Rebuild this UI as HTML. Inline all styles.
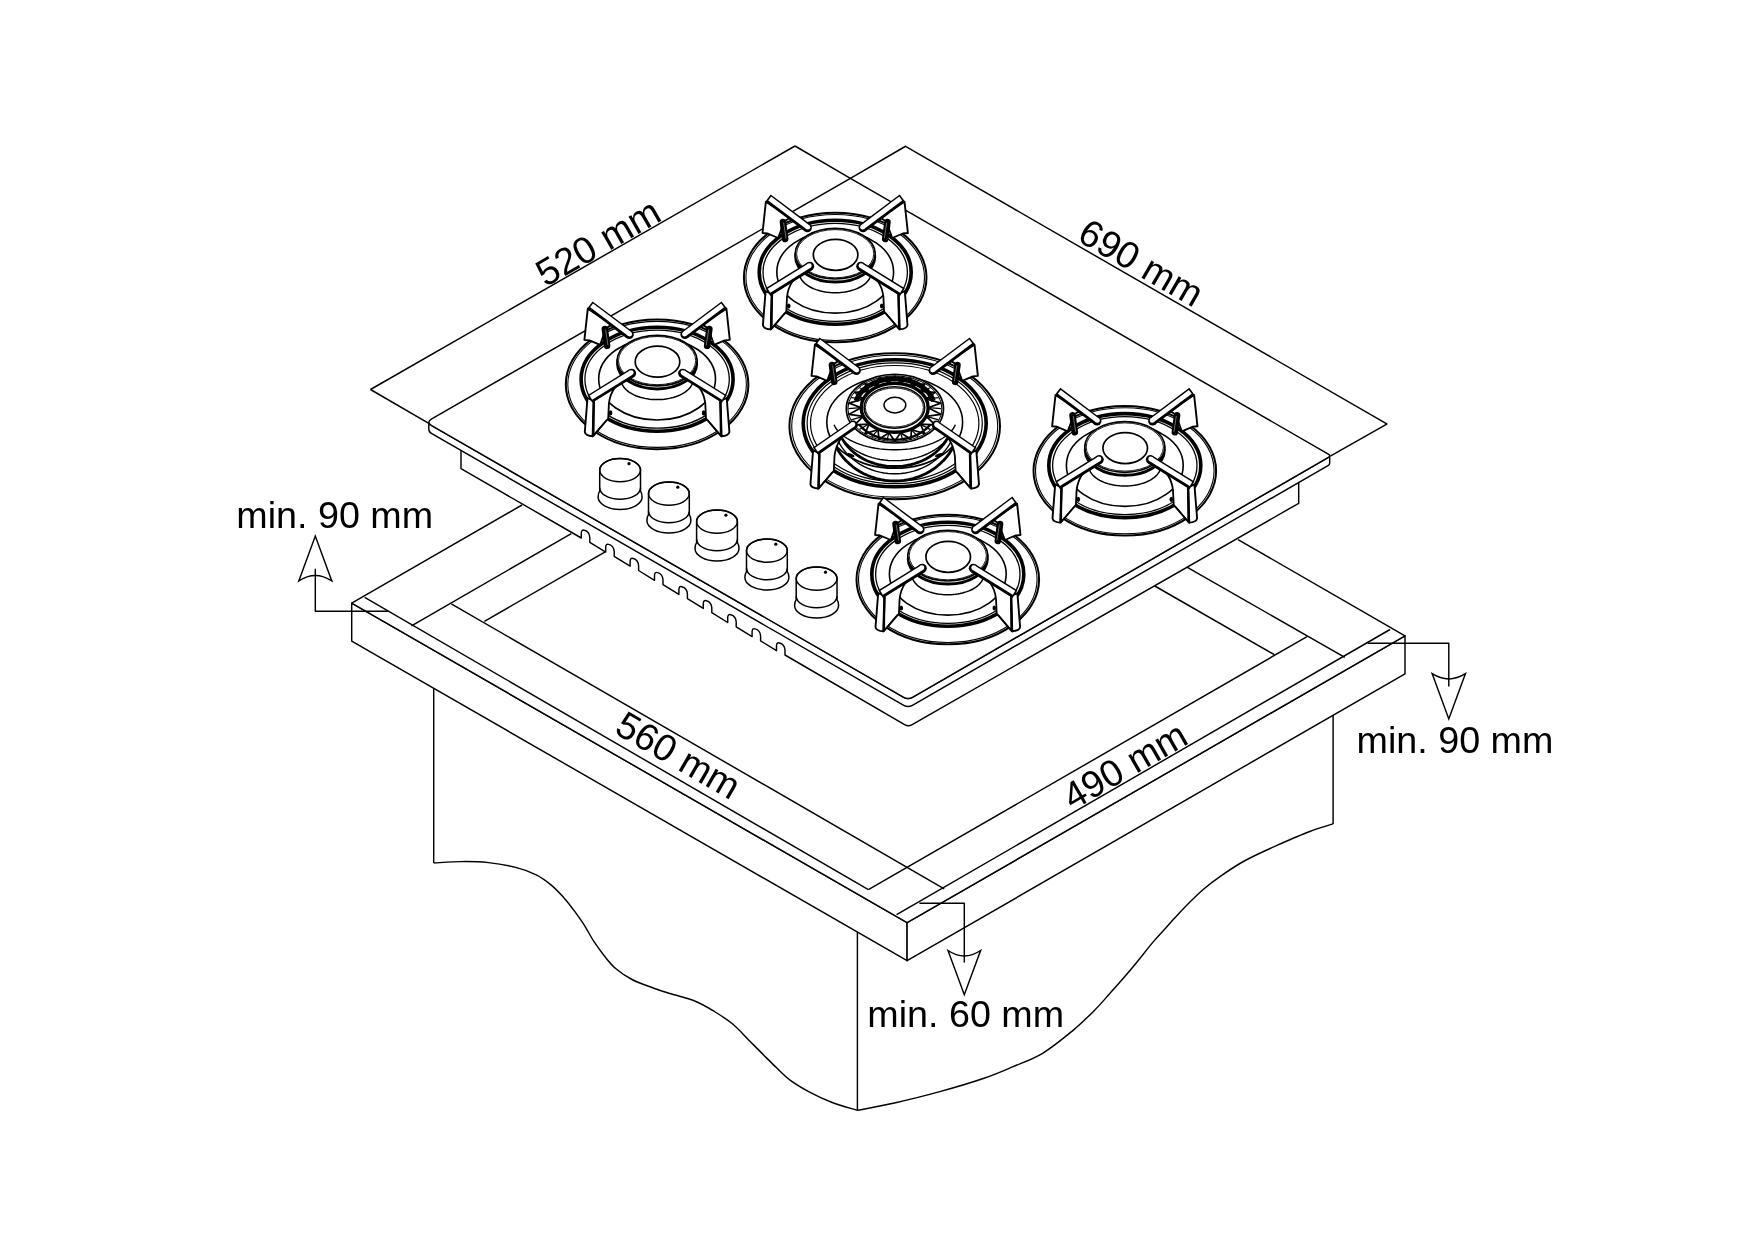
<!DOCTYPE html>
<html><head><meta charset="utf-8"><style>
html,body{margin:0;padding:0;background:#fff;}
svg{display:block;will-change:transform;}
</style></head><body>
<svg width="1755" height="1240" viewBox="0 0 1755 1240" stroke="#000" fill="none" stroke-linecap="butt" stroke-linejoin="round">
<rect x="0" y="0" width="1755" height="1240" fill="#fff" stroke="none"/>
<line x1="433.7" y1="688.0" x2="433.7" y2="863.0" stroke-width="1.45" />
<path d="M433.7,863.0 C438.2,862.8 451.9,861.7 461.0,861.6 C470.1,861.5 479.3,861.6 488.4,862.6 C497.5,863.6 507.7,865.4 515.7,867.4 C523.7,869.4 530.3,871.9 536.2,874.9 C542.1,877.9 546.7,881.4 551.3,885.1 C555.9,888.9 559.7,893.1 563.6,897.4 C567.5,901.7 571.1,906.5 574.5,911.1 C577.9,915.7 580.9,919.8 584.1,924.8 C587.3,929.8 590.3,936.0 593.7,941.2 C597.1,946.4 601.0,951.7 604.6,956.2 C608.2,960.8 611.0,964.6 615.6,968.5 C620.2,972.4 625.9,976.3 632.0,979.5 C638.1,982.7 646.6,985.5 652.5,987.7 C658.4,989.9 660.4,990.6 667.4,992.8 C674.4,995.0 686.7,997.8 694.7,1001.0 C702.7,1004.2 708.8,1008.1 715.2,1012.0 C721.6,1015.9 727.3,1019.5 733.0,1024.3 C738.7,1029.1 744.4,1035.7 749.4,1040.7 C754.4,1045.7 758.5,1049.9 763.1,1054.4 C767.7,1059.0 772.2,1063.7 776.8,1068.0 C781.3,1072.3 785.2,1076.4 790.4,1080.3 C795.6,1084.2 801.4,1087.6 808.2,1091.3 C815.1,1095.0 823.3,1099.0 831.5,1102.2 C839.7,1105.4 853.1,1109.0 857.4,1110.4" fill="none" stroke-width="1.45" />
<line x1="857.4" y1="932.0" x2="857.4" y2="1110.4" stroke-width="1.45" />
<path d="M857.4,1110.4 C863.6,1109.2 880.8,1106.1 894.4,1103.0 C908.0,1099.9 924.1,1096.0 938.9,1091.9 C953.7,1087.8 970.9,1082.7 983.3,1078.5 C995.6,1074.3 1003.1,1070.9 1013.0,1066.7 C1022.9,1062.5 1032.7,1059.2 1042.6,1053.3 C1052.5,1047.4 1063.6,1038.2 1072.2,1031.1 C1080.8,1023.9 1088.1,1016.7 1094.4,1010.4 C1100.7,1004.1 1103.7,1000.4 1110.0,993.3 C1116.3,986.2 1125.1,976.3 1132.3,967.7 C1139.5,959.1 1147.3,948.9 1153.2,941.9 C1159.1,934.9 1162.3,931.7 1167.7,925.8 C1173.1,919.9 1179.6,912.5 1185.5,906.5 C1191.4,900.5 1197.3,894.6 1203.2,889.5 C1209.1,884.4 1214.0,880.6 1221.0,875.8 C1228.0,871.0 1235.8,865.6 1245.2,860.5 C1254.6,855.4 1266.7,850.0 1277.4,845.2 C1288.2,840.4 1300.4,835.0 1309.7,831.5 C1319.0,828.0 1329.2,825.2 1333.1,823.9" fill="none" stroke-width="1.45" />
<line x1="1333.1" y1="715.0" x2="1333.1" y2="823.9" stroke-width="1.45" />
<polygon points="351.7,603.1 907.1,922.7 907.1,960.7 351.7,641.1" fill="#fff" stroke-width="1.45" />
<polygon points="907.1,922.7 1405.0,635.8 1405.0,673.8 907.1,960.7" fill="#fff" stroke-width="1.45" />
<polygon points="351.7,603.1 522.0,505.0 880.0,330.0 1238.0,539.6 1405.0,635.8 907.1,922.7" fill="#fff" stroke-width="1.45" stroke="none"/>
<polyline points="522.0,505.0 351.7,603.1 907.1,922.7 1405.0,635.8 1238.0,539.6" fill="none" stroke-width="1.45" />
<line x1="364.7" y1="597.4" x2="868.4" y2="889.7" stroke-width="1.45" />
<line x1="868.4" y1="889.7" x2="1307.0" y2="636.6" stroke-width="1.45" />
<line x1="411.5" y1="625.9" x2="571.3" y2="533.6" stroke-width="1.45" />
<line x1="1154.8" y1="586.0" x2="1274.4" y2="654.7" stroke-width="1.45" />
<line x1="451.3" y1="603.8" x2="944.2" y2="888.8" stroke-width="1.45" />
<line x1="896.6" y1="914.7" x2="1390.0" y2="629.5" stroke-width="1.45" />
<line x1="484.4" y1="621.3" x2="605.2" y2="551.8" stroke-width="1.45" />
<line x1="1186.5" y1="566.9" x2="1344.8" y2="657.3" stroke-width="1.45" />
<path d="M461,440 L461,468.6 L581.3,538.0 l0,-5.1 q0.2,-3.6 3.1,-2.6 q5.0,1.3 5.4,7.2 l0,4.8 L605.7,552.1 l0,-5.1 q0.2,-3.6 3.1,-2.6 q5.0,1.3 5.4,7.2 l0,4.8 L630.1,566.2 l0,-5.1 q0.2,-3.6 3.1,-2.6 q5.0,1.3 5.4,7.2 l0,4.8 L654.5,580.3 l0,-5.1 q0.2,-3.6 3.1,-2.6 q5.0,1.3 5.4,7.2 l0,4.8 L678.9,594.4 l0,-5.1 q0.2,-3.6 3.1,-2.6 q5.0,1.3 5.4,7.2 l0,4.8 L703.3,608.4 l0,-5.1 q0.2,-3.6 3.1,-2.6 q5.0,1.3 5.4,7.2 l0,4.8 L727.7,622.5 l0,-5.1 q0.2,-3.6 3.1,-2.6 q5.0,1.3 5.4,7.2 l0,4.8 L752.1,636.6 l0,-5.1 q0.2,-3.6 3.1,-2.6 q5.0,1.3 5.4,7.2 l0,4.8 L776.5,650.7 l0,-5.1 q0.2,-3.6 3.1,-2.6 q5.0,1.3 5.4,7.2 l0,4.8 L904.6,724.6 Q908.4,726.8 912.2,724.6 L1298.7,503.3 L1298.7,470 Z" fill="#fff" stroke-width="1.45" />
<path d="M428.80,423.97 L903.77,697.31 Q908.10,699.80 912.43,697.30 L1329.70,456.61 L1329.70,463.11 Q1329.70,464.61 1328.40,465.36 L912.43,705.30 Q908.10,707.80 903.77,705.31 L431.40,433.47 Q428.80,431.97 428.80,428.97 Z" fill="#fff" stroke-width="1.45" />
<path d="M431.71,425.64 Q425.90,422.30 431.71,418.96 L850.40,178.30 L1328.33,454.20 Q1331.10,455.80 1328.33,457.40 L912.43,697.30 Q908.10,699.80 903.77,697.31 Z" fill="#fff" stroke-width="1.45" />
<line x1="850.4" y1="178.3" x2="795.0" y2="146.0" stroke-width="1.45" />
<line x1="850.4" y1="178.3" x2="906.0" y2="146.0" stroke-width="1.45" />
<line x1="428.8" y1="423.3" x2="370.5" y2="389.5" stroke-width="1.45" />
<line x1="1330.3" y1="456.2" x2="1387.2" y2="423.8" stroke-width="1.45" />
<line x1="370.5" y1="389.5" x2="795.0" y2="146.0" stroke-width="1.45" />
<line x1="906.0" y1="146.6" x2="1387.2" y2="424.1" stroke-width="1.45" />
<path d="M599.7,470.1 A20.4,11.6 0 0 1 640.5,470.1 L640.5,491.1 Q642.1,493.1 642.1,497.1 A22.0,12.4 0 0 1 598.1,497.1 Q598.1,493.1 599.7,491.1 Z" fill="#fff" stroke-width="1.5" />
<ellipse cx="620.1" cy="470.1" rx="20.4" ry="11.6" fill="none" stroke-width="1.5" />
<path d="M599.7,487.7 A20.4,11.6 0 0 0 640.5,487.7" fill="none" stroke-width="1.5"/>
<circle cx="629.0" cy="463.7" r="1.6" fill="#000" stroke="none"/>
<path d="M648.5,493.6 A20.4,11.6 0 0 1 689.3,493.6 L689.3,514.6 Q690.9,516.6 690.9,520.6 A22.0,12.4 0 0 1 646.9,520.6 Q646.9,516.6 648.5,514.6 Z" fill="#fff" stroke-width="1.5" />
<ellipse cx="668.9" cy="493.6" rx="20.4" ry="11.6" fill="none" stroke-width="1.5" />
<path d="M648.5,511.2 A20.4,11.6 0 0 0 689.3,511.2" fill="none" stroke-width="1.5"/>
<circle cx="677.8" cy="487.2" r="1.6" fill="#000" stroke="none"/>
<path d="M696.6,521.6 A20.4,11.6 0 0 1 737.4,521.6 L737.4,542.6 Q739.0,544.6 739.0,548.6 A22.0,12.4 0 0 1 695.0,548.6 Q695.0,544.6 696.6,542.6 Z" fill="#fff" stroke-width="1.5" />
<ellipse cx="717.0" cy="521.6" rx="20.4" ry="11.6" fill="none" stroke-width="1.5" />
<path d="M696.6,539.2 A20.4,11.6 0 0 0 737.4,539.2" fill="none" stroke-width="1.5"/>
<circle cx="725.9" cy="515.2" r="1.6" fill="#000" stroke="none"/>
<path d="M746.5,550.6 A20.4,11.6 0 0 1 787.3,550.6 L787.3,571.6 Q788.9,573.6 788.9,577.6 A22.0,12.4 0 0 1 744.9,577.6 Q744.9,573.6 746.5,571.6 Z" fill="#fff" stroke-width="1.5" />
<ellipse cx="766.9" cy="550.6" rx="20.4" ry="11.6" fill="none" stroke-width="1.5" />
<path d="M746.5,568.2 A20.4,11.6 0 0 0 787.3,568.2" fill="none" stroke-width="1.5"/>
<circle cx="775.8" cy="544.2" r="1.6" fill="#000" stroke="none"/>
<path d="M796.2,578.6 A20.4,11.6 0 0 1 837.0,578.6 L837.0,599.6 Q838.6,601.6 838.6,605.6 A22.0,12.4 0 0 1 794.6,605.6 Q794.6,601.6 796.2,599.6 Z" fill="#fff" stroke-width="1.5" />
<ellipse cx="816.6" cy="578.6" rx="20.4" ry="11.6" fill="none" stroke-width="1.5" />
<path d="M796.2,596.2 A20.4,11.6 0 0 0 837.0,596.2" fill="none" stroke-width="1.5"/>
<circle cx="825.5" cy="572.2" r="1.6" fill="#000" stroke="none"/>
<ellipse cx="835.2" cy="277.5" rx="91.3" ry="64.8" fill="#fff" stroke-width="2.0" />
<ellipse cx="835.2" cy="277.5" rx="89.3" ry="63.0" fill="none" stroke-width="1.1" />
<ellipse cx="835.2" cy="272.3" rx="76.0" ry="52.0" fill="none" stroke-width="3.6" />
<ellipse cx="835.2" cy="272.3" rx="72.2" ry="49.0" fill="none" stroke-width="1.3" />
<polygon points="765.9,201.7 762.5,233.0 767.6,233.5 778.2,238.0 784.2,221.5 790.2,217.5" fill="#fff" stroke-width="1.9" />
<line x1="782.9" y1="222.0" x2="785.2" y2="239.0" stroke-width="6.5" stroke-linecap="round"/>
<line x1="783.7" y1="223.0" x2="786.0" y2="238.0" stroke-width="0.8" stroke="#888" stroke-linecap="round"/>
<line x1="768.0" y1="198.1" x2="807.4" y2="227.7" stroke-width="9.0" stroke-linecap="butt"/>
<circle cx="807.40" cy="227.70" r="4.50" fill="#000" stroke="none"/>
<line x1="769.7" y1="198.5" x2="807.8" y2="227.1" stroke-width="4.8" stroke="#fff" stroke-linecap="butt"/>
<circle cx="807.82" cy="227.14" r="2.40" fill="#fff" stroke="none"/>
<polygon points="904.5,201.7 907.9,233.0 902.8,233.5 892.2,238.0 886.2,221.5 880.2,217.5" fill="#fff" stroke-width="1.9" />
<line x1="887.5" y1="222.0" x2="885.2" y2="239.0" stroke-width="6.5" stroke-linecap="round"/>
<line x1="886.7" y1="223.0" x2="884.4" y2="238.0" stroke-width="0.8" stroke="#888" stroke-linecap="round"/>
<line x1="902.4" y1="198.1" x2="863.0" y2="227.7" stroke-width="9.0" stroke-linecap="butt"/>
<circle cx="863.00" cy="227.70" r="4.50" fill="#000" stroke="none"/>
<line x1="900.7" y1="198.5" x2="862.6" y2="227.1" stroke-width="4.8" stroke="#fff" stroke-linecap="butt"/>
<circle cx="862.58" cy="227.14" r="2.40" fill="#fff" stroke="none"/>
<ellipse cx="835.2" cy="272.1" rx="58.4" ry="41.0" fill="#fff" stroke-width="1.6" />
<path d="M870.65,276.01 L870.13,277.39 L869.44,278.74 L868.58,280.07 L867.56,281.36 L866.38,282.60 L865.05,283.80 L863.57,284.94 L861.95,286.02 L860.21,287.03 L858.34,287.97 L856.36,288.84 L854.28,289.63 L852.10,290.34 L849.84,290.95 L847.51,291.48 L845.12,291.92 L842.68,292.26 L840.21,292.50 L837.71,292.65 L835.20,292.70 L832.69,292.65 L830.19,292.50 L827.72,292.26 L825.28,291.92 L822.89,291.48 L820.56,290.95 L818.30,290.34 L816.12,289.63 L814.04,288.84 L812.06,287.97 L810.19,287.03 L808.45,286.02 L806.83,284.94 L805.35,283.80 L804.02,282.60 L802.84,281.36 L801.82,280.07 L800.96,278.74 L800.27,277.39 L799.75,276.01" fill="none" stroke-width="1.5" />
<ellipse cx="835.2" cy="257.0" rx="39.5" ry="25.0" fill="#fff" stroke-width="3.0" />
<ellipse cx="835.2" cy="253.7" rx="40.0" ry="25.3" fill="#fff" stroke-width="1.7" />
<ellipse cx="835.2" cy="253.7" rx="38.6" ry="24.1" fill="none" stroke-width="0.9" />
<ellipse cx="835.6" cy="254.8" rx="22.3" ry="15.5" fill="none" stroke-width="1.7" />
<ellipse cx="788.7" cy="306.0" rx="1.8" ry="2.6" fill="#000" stroke="none"/>
<ellipse cx="881.7" cy="306.0" rx="1.8" ry="2.6" fill="#000" stroke="none"/>
<path d="M804.2,272.5 Q789.2,278.5 787.0,296.8 L786.3,311.6 L771.7,328.7 L771.2,294.2 Z" fill="#fff" stroke-width="1.8" />
<line x1="784.7" y1="313.0" x2="770.1" y2="330.1" stroke-width="1.2" />
<path d="M771.9,294.0 L765.6,291.1 L762.9,325.1 Q763.7,329.0 771.0,329.3 Z" fill="#fff" stroke-width="1.9" />
<line x1="771.9" y1="294.5" x2="771.0" y2="329.0" stroke-width="2.4" />
<line x1="768.0" y1="292.1" x2="809.7" y2="266.3" stroke-width="9.0" stroke-linecap="butt"/>
<circle cx="809.70" cy="266.30" r="4.50" fill="#000" stroke="none"/>
<line x1="769.0" y1="290.7" x2="809.3" y2="265.7" stroke-width="4.8" stroke="#fff" stroke-linecap="butt"/>
<circle cx="809.33" cy="265.70" r="2.40" fill="#fff" stroke="none"/>
<path d="M866.2,272.5 Q881.2,278.5 883.4,296.8 L884.1,311.6 L898.7,328.7 L899.2,294.2 Z" fill="#fff" stroke-width="1.8" />
<line x1="885.7" y1="313.0" x2="900.3" y2="330.1" stroke-width="1.2" />
<path d="M898.5,294.0 L904.8,291.1 L907.5,325.1 Q906.7,329.0 899.4,329.3 Z" fill="#fff" stroke-width="1.9" />
<line x1="898.5" y1="294.5" x2="899.4" y2="329.0" stroke-width="2.4" />
<line x1="902.4" y1="292.1" x2="860.7" y2="266.3" stroke-width="9.0" stroke-linecap="butt"/>
<circle cx="860.70" cy="266.30" r="4.50" fill="#000" stroke="none"/>
<line x1="901.4" y1="290.7" x2="861.1" y2="265.7" stroke-width="4.8" stroke="#fff" stroke-linecap="butt"/>
<circle cx="861.07" cy="265.70" r="2.40" fill="#fff" stroke="none"/>
<ellipse cx="657.1" cy="384.4" rx="91.3" ry="64.8" fill="#fff" stroke-width="2.0" />
<ellipse cx="657.1" cy="384.4" rx="89.3" ry="63.0" fill="none" stroke-width="1.1" />
<ellipse cx="657.1" cy="379.2" rx="76.0" ry="52.0" fill="none" stroke-width="3.6" />
<ellipse cx="657.1" cy="379.2" rx="72.2" ry="49.0" fill="none" stroke-width="1.3" />
<polygon points="587.8,308.6 584.4,339.9 589.5,340.4 600.1,344.9 606.1,328.4 612.1,324.4" fill="#fff" stroke-width="1.9" />
<line x1="604.8" y1="328.9" x2="607.1" y2="345.9" stroke-width="6.5" stroke-linecap="round"/>
<line x1="605.6" y1="329.9" x2="607.9" y2="344.9" stroke-width="0.8" stroke="#888" stroke-linecap="round"/>
<line x1="589.9" y1="305.0" x2="629.3" y2="334.6" stroke-width="9.0" stroke-linecap="butt"/>
<circle cx="629.30" cy="334.60" r="4.50" fill="#000" stroke="none"/>
<line x1="591.6" y1="305.4" x2="629.7" y2="334.0" stroke-width="4.8" stroke="#fff" stroke-linecap="butt"/>
<circle cx="629.72" cy="334.04" r="2.40" fill="#fff" stroke="none"/>
<polygon points="726.4,308.6 729.8,339.9 724.7,340.4 714.1,344.9 708.1,328.4 702.1,324.4" fill="#fff" stroke-width="1.9" />
<line x1="709.4" y1="328.9" x2="707.1" y2="345.9" stroke-width="6.5" stroke-linecap="round"/>
<line x1="708.6" y1="329.9" x2="706.3" y2="344.9" stroke-width="0.8" stroke="#888" stroke-linecap="round"/>
<line x1="724.3" y1="305.0" x2="684.9" y2="334.6" stroke-width="9.0" stroke-linecap="butt"/>
<circle cx="684.90" cy="334.60" r="4.50" fill="#000" stroke="none"/>
<line x1="722.6" y1="305.4" x2="684.5" y2="334.0" stroke-width="4.8" stroke="#fff" stroke-linecap="butt"/>
<circle cx="684.48" cy="334.04" r="2.40" fill="#fff" stroke="none"/>
<ellipse cx="657.1" cy="379.0" rx="58.4" ry="41.0" fill="#fff" stroke-width="1.6" />
<path d="M692.55,382.91 L692.03,384.29 L691.34,385.64 L690.48,386.97 L689.46,388.26 L688.28,389.50 L686.95,390.70 L685.47,391.84 L683.85,392.92 L682.11,393.93 L680.24,394.87 L678.26,395.74 L676.18,396.53 L674.00,397.24 L671.74,397.85 L669.41,398.38 L667.02,398.82 L664.58,399.16 L662.11,399.40 L659.61,399.55 L657.10,399.60 L654.59,399.55 L652.09,399.40 L649.62,399.16 L647.18,398.82 L644.79,398.38 L642.46,397.85 L640.20,397.24 L638.02,396.53 L635.94,395.74 L633.96,394.87 L632.09,393.93 L630.35,392.92 L628.73,391.84 L627.25,390.70 L625.92,389.50 L624.74,388.26 L623.72,386.97 L622.86,385.64 L622.17,384.29 L621.65,382.91" fill="none" stroke-width="1.5" />
<ellipse cx="657.1" cy="363.9" rx="39.5" ry="25.0" fill="#fff" stroke-width="3.0" />
<ellipse cx="657.1" cy="360.6" rx="40.0" ry="25.3" fill="#fff" stroke-width="1.7" />
<ellipse cx="657.1" cy="360.6" rx="38.6" ry="24.1" fill="none" stroke-width="0.9" />
<ellipse cx="657.5" cy="361.7" rx="22.3" ry="15.5" fill="none" stroke-width="1.7" />
<ellipse cx="610.6" cy="412.9" rx="1.8" ry="2.6" fill="#000" stroke="none"/>
<ellipse cx="703.6" cy="412.9" rx="1.8" ry="2.6" fill="#000" stroke="none"/>
<path d="M626.1,379.4 Q611.1,385.4 608.9,403.7 L608.2,418.5 L593.6,435.6 L593.1,401.1 Z" fill="#fff" stroke-width="1.8" />
<line x1="606.6" y1="419.9" x2="592.0" y2="437.0" stroke-width="1.2" />
<path d="M593.8,400.9 L587.5,398.0 L584.8,432.0 Q585.6,435.9 592.9,436.2 Z" fill="#fff" stroke-width="1.9" />
<line x1="593.8" y1="401.4" x2="592.9" y2="435.9" stroke-width="2.4" />
<line x1="589.9" y1="399.0" x2="631.6" y2="373.2" stroke-width="9.0" stroke-linecap="butt"/>
<circle cx="631.60" cy="373.20" r="4.50" fill="#000" stroke="none"/>
<line x1="590.9" y1="397.6" x2="631.2" y2="372.6" stroke-width="4.8" stroke="#fff" stroke-linecap="butt"/>
<circle cx="631.23" cy="372.60" r="2.40" fill="#fff" stroke="none"/>
<path d="M688.1,379.4 Q703.1,385.4 705.3,403.7 L706.0,418.5 L720.6,435.6 L721.1,401.1 Z" fill="#fff" stroke-width="1.8" />
<line x1="707.6" y1="419.9" x2="722.2" y2="437.0" stroke-width="1.2" />
<path d="M720.4,400.9 L726.7,398.0 L729.4,432.0 Q728.6,435.9 721.3,436.2 Z" fill="#fff" stroke-width="1.9" />
<line x1="720.4" y1="401.4" x2="721.3" y2="435.9" stroke-width="2.4" />
<line x1="724.3" y1="399.0" x2="682.6" y2="373.2" stroke-width="9.0" stroke-linecap="butt"/>
<circle cx="682.60" cy="373.20" r="4.50" fill="#000" stroke="none"/>
<line x1="723.3" y1="397.6" x2="683.0" y2="372.6" stroke-width="4.8" stroke="#fff" stroke-linecap="butt"/>
<circle cx="682.97" cy="372.60" r="2.40" fill="#fff" stroke="none"/>
<ellipse cx="894.7" cy="426.2" rx="105.3" ry="73.0" fill="#fff" stroke-width="2.0" />
<ellipse cx="894.7" cy="426.2" rx="103.0" ry="70.9" fill="none" stroke-width="1.1" />
<ellipse cx="894.7" cy="423.3" rx="91.5" ry="63.5" fill="none" stroke-width="3.6" />
<ellipse cx="894.7" cy="423.3" rx="87.6" ry="60.4" fill="none" stroke-width="1.2" />
<ellipse cx="894.7" cy="423.3" rx="84.2" ry="57.8" fill="none" stroke-width="1.2" />
<polygon points="814.9,344.6 811.5,375.9 816.6,376.4 827.2,380.9 833.2,364.4 839.2,360.4" fill="#fff" stroke-width="1.9" />
<line x1="831.9" y1="364.9" x2="834.2" y2="381.9" stroke-width="6.5" stroke-linecap="round"/>
<line x1="832.7" y1="365.9" x2="835.0" y2="380.9" stroke-width="0.8" stroke="#888" stroke-linecap="round"/>
<line x1="817.0" y1="341.0" x2="856.4" y2="370.6" stroke-width="9.0" stroke-linecap="butt"/>
<circle cx="856.40" cy="370.60" r="4.50" fill="#000" stroke="none"/>
<line x1="818.7" y1="341.4" x2="856.8" y2="370.0" stroke-width="4.8" stroke="#fff" stroke-linecap="butt"/>
<circle cx="856.82" cy="370.04" r="2.40" fill="#fff" stroke="none"/>
<polygon points="974.5,344.6 977.9,375.9 972.8,376.4 962.2,380.9 956.2,364.4 950.2,360.4" fill="#fff" stroke-width="1.9" />
<line x1="957.5" y1="364.9" x2="955.2" y2="381.9" stroke-width="6.5" stroke-linecap="round"/>
<line x1="956.7" y1="365.9" x2="954.4" y2="380.9" stroke-width="0.8" stroke="#888" stroke-linecap="round"/>
<line x1="972.4" y1="341.0" x2="933.0" y2="370.6" stroke-width="9.0" stroke-linecap="butt"/>
<circle cx="933.00" cy="370.60" r="4.50" fill="#000" stroke="none"/>
<line x1="970.7" y1="341.4" x2="932.6" y2="370.0" stroke-width="4.8" stroke="#fff" stroke-linecap="butt"/>
<circle cx="932.58" cy="370.04" r="2.40" fill="#fff" stroke="none"/>
<ellipse cx="894.7" cy="422.2" rx="67.9" ry="46.0" fill="#fff" stroke-width="1.6" />
<path d="M955.35,424.77 L954.30,426.91 L952.96,429.01 L951.34,431.05 L949.44,433.04 L947.28,434.95 L944.86,436.77 L942.19,438.51 L939.30,440.15 L936.19,441.68 L932.87,443.10 L929.37,444.40 L925.70,445.57 L921.88,446.60 L917.93,447.50 L913.86,448.25 L909.70,448.86 L905.47,449.32 L901.18,449.63 L896.86,449.78 L892.54,449.78 L888.22,449.63 L883.93,449.32 L879.70,448.86 L875.54,448.25 L871.47,447.50 L867.52,446.60 L863.70,445.57 L860.03,444.40 L856.53,443.10 L853.21,441.68 L850.10,440.15 L847.21,438.51 L844.54,436.77 L842.12,434.95 L839.96,433.04 L838.06,431.05 L836.44,429.01 L835.10,426.91 L834.05,424.77" fill="none" stroke-width="1.4" />
<path d="M951.08,432.74 L949.51,435.49 L947.68,438.15 L945.58,440.72 L943.24,443.18 L940.66,445.52 L937.86,447.72 L934.85,449.78 L931.64,451.69 L928.25,453.43 L924.70,455.01 L921.00,456.40 L917.18,457.61 L913.24,458.62 L909.22,459.44 L905.12,460.05 L900.97,460.47 L896.79,460.67 L892.61,460.67 L888.43,460.47 L884.28,460.05 L880.18,459.44 L876.16,458.62 L872.22,457.61 L868.40,456.40 L864.70,455.01 L861.15,453.43 L857.76,451.69 L854.55,449.78 L851.54,447.72 L848.74,445.52 L846.16,443.18 L843.82,440.72 L841.72,438.15 L839.89,435.49 L838.32,432.74" fill="none" stroke-width="1.4" />
<path d="M947.27,438.61 L945.40,441.66 L943.27,444.59 L940.91,447.39 L938.31,450.05 L935.49,452.54 L932.46,454.86 L929.25,456.99 L925.86,458.94 L922.32,460.67 L918.64,462.19 L914.83,463.50 L910.93,464.57 L906.94,465.41 L902.90,466.02 L898.81,466.38 L894.70,466.50 L890.59,466.38 L886.50,466.02 L882.46,465.41 L878.47,464.57 L874.57,463.50 L870.76,462.19 L867.08,460.67 L863.54,458.94 L860.15,456.99 L856.94,454.86 L853.91,452.54 L851.09,450.05 L848.49,447.39 L846.13,444.59 L844.00,441.66 L842.13,438.61" fill="none" stroke-width="2.8" />
<path d="M952.96,437.22 L951.34,440.81 L949.44,444.30 L947.28,447.66 L944.86,450.88 L942.19,453.94 L939.30,456.82 L936.19,459.52 L932.87,462.01 L929.37,464.29 L925.70,466.35 L921.88,468.17 L917.93,469.75 L913.86,471.08 L909.70,472.15 L905.47,472.96 L901.18,473.50 L896.86,473.77 L892.54,473.77 L888.22,473.50 L883.93,472.96 L879.70,472.15 L875.54,471.08 L871.47,469.75 L867.52,468.17 L863.70,466.35 L860.03,464.29 L856.53,462.01 L853.21,459.52 L850.10,456.82 L847.21,453.94 L844.54,450.88 L842.12,447.66 L839.96,444.30 L838.06,440.81 L836.44,437.22" fill="none" stroke-width="1.4" />
<path d="M957.47,437.61 L955.89,441.73 L954.02,445.73 L951.86,449.60 L949.42,453.32 L946.71,456.86 L943.75,460.22 L940.55,463.37 L937.12,466.31 L933.49,469.01 L929.67,471.46 L925.69,473.65 L921.54,475.57 L917.27,477.21 L912.89,478.57 L908.42,479.63 L903.89,480.39 L899.30,480.85 L894.70,481.00 L890.10,480.85 L885.51,480.39 L880.98,479.63 L876.51,478.57 L872.13,477.21 L867.86,475.57 L863.71,473.65 L859.73,471.46 L855.91,469.01 L852.28,466.31 L848.85,463.37 L845.65,460.22 L842.69,456.86 L839.98,453.32 L837.54,449.60 L835.38,445.73 L833.51,441.73 L831.93,437.61" fill="none" stroke-width="2.8" />
<ellipse cx="850.7" cy="455.2" rx="4" ry="1.6" fill="#000" stroke="none" transform="rotate(20 850.7 455.2)"/>
<ellipse cx="938.7" cy="455.2" rx="4" ry="1.6" fill="#000" stroke="none" transform="rotate(-20 938.7 455.2)"/>
<ellipse cx="894.9" cy="408.7" rx="48.6" ry="34.3" fill="#fff" stroke-width="1.7" />
<ellipse cx="894.9" cy="408.7" rx="47.0" ry="32.8" fill="none" stroke-width="1.0" />
<polyline points="928.2,407.7 940.7,414.3 926.2,416.4 935.2,424.9 920.4,424.1 924.8,433.6 911.5,429.8 910.8,439.2 900.5,432.8 894.9,441.2 888.9,432.8 879.0,439.2 878.0,429.8 865.0,433.6 869.0,424.1 854.6,424.9 863.2,416.4 849.1,414.3 861.2,407.7 849.1,403.1 863.2,399.0 854.6,392.4 869.0,391.3 865.0,383.8 878.0,385.6 879.0,378.2 888.9,382.6 894.9,376.2 900.5,382.6 910.8,378.2 911.5,385.6 924.8,383.8 920.4,391.3 935.2,392.4 926.2,399.0 940.7,403.1 928.2,407.7" fill="none" stroke-width="1.7" />
<line x1="928.2" y1="407.7" x2="941.4" y2="408.7" stroke-width="1.2" />
<line x1="926.2" y1="416.4" x2="938.6" y2="419.8" stroke-width="1.2" />
<line x1="920.4" y1="424.1" x2="930.5" y2="429.6" stroke-width="1.2" />
<line x1="911.5" y1="429.8" x2="918.2" y2="436.8" stroke-width="1.2" />
<line x1="900.5" y1="432.8" x2="903.0" y2="440.7" stroke-width="1.2" />
<line x1="888.9" y1="432.8" x2="886.8" y2="440.7" stroke-width="1.2" />
<line x1="878.0" y1="429.8" x2="871.7" y2="436.8" stroke-width="1.2" />
<line x1="869.0" y1="424.1" x2="859.3" y2="429.6" stroke-width="1.2" />
<line x1="863.2" y1="416.4" x2="851.2" y2="419.8" stroke-width="1.2" />
<line x1="861.2" y1="407.7" x2="848.4" y2="408.7" stroke-width="1.2" />
<line x1="863.2" y1="399.0" x2="851.2" y2="397.6" stroke-width="1.2" />
<line x1="869.0" y1="391.3" x2="859.3" y2="387.8" stroke-width="1.2" />
<line x1="878.0" y1="385.6" x2="871.7" y2="380.6" stroke-width="1.2" />
<line x1="888.9" y1="382.6" x2="886.8" y2="376.7" stroke-width="1.2" />
<line x1="900.5" y1="382.6" x2="903.0" y2="376.7" stroke-width="1.2" />
<line x1="911.5" y1="385.6" x2="918.2" y2="380.6" stroke-width="1.2" />
<line x1="920.4" y1="391.3" x2="930.5" y2="387.8" stroke-width="1.2" />
<line x1="926.2" y1="399.0" x2="938.6" y2="397.6" stroke-width="1.2" />
<path d="M856.06,400.94 L856.89,398.91 L857.91,396.93 L859.11,395.00 L860.49,393.15 L862.04,391.38 L863.76,389.69 L865.63,388.10 L867.64,386.61 L869.79,385.23 L872.07,383.96 L874.46,382.83 L876.95,381.82 L879.52,380.94 L882.18,380.21 L884.90,379.62 L887.66,379.17 L890.46,378.87 L893.29,378.72 L896.11,378.72 L898.94,378.87 L901.74,379.17 L904.50,379.62 L907.22,380.21 L909.88,380.94 L912.45,381.82 L914.94,382.83 L917.33,383.96 L919.61,385.23 L921.76,386.61 L923.77,388.10 L925.64,389.69 L927.36,391.38 L928.91,393.15 L930.29,395.00 L931.49,396.93 L932.51,398.91 L933.34,400.94" fill="none" stroke-width="5.0" />
<path d="M930.21,424.45 L928.69,426.26 L927.01,427.98 L925.17,429.61 L923.18,431.14 L921.05,432.56 L918.80,433.88 L916.43,435.07 L913.95,436.13 L911.38,437.06 L908.72,437.86 L906.00,438.52 L903.22,439.03 L900.41,439.40 L897.56,439.63 L894.70,439.70 L891.84,439.63 L888.99,439.40 L886.18,439.03 L883.40,438.52 L880.68,437.86 L878.02,437.06 L875.45,436.13 L872.97,435.07 L870.60,433.88 L868.35,432.56 L866.22,431.14 L864.23,429.61 L862.39,427.98 L860.71,426.26 L859.19,424.45" fill="none" stroke-width="2.4" />
<ellipse cx="894.7" cy="407.7" rx="33.5" ry="24.5" fill="#fff" stroke-width="3.4" />
<ellipse cx="894.4" cy="407.5" rx="30.3" ry="20.7" fill="#fff" stroke-width="1.6" />
<ellipse cx="894.4" cy="407.5" rx="29.0" ry="19.5" fill="none" stroke-width="0.9" />
<ellipse cx="894.9" cy="405.1" rx="10.9" ry="7.8" fill="none" stroke-width="1.5" />
<path d="M851.7,428.2 Q836.7,437.7 834.5,456.0 L833.8,470.8 L819.2,487.9 L818.7,453.4 Z" fill="#fff" stroke-width="1.8" />
<line x1="832.2" y1="472.2" x2="817.6" y2="489.3" stroke-width="1.2" />
<path d="M819.4,453.2 L813.1,450.3 L810.4,484.3 Q811.2,488.2 818.5,488.5 Z" fill="#fff" stroke-width="1.9" />
<line x1="819.4" y1="453.7" x2="818.5" y2="488.2" stroke-width="2.4" />
<line x1="815.5" y1="451.3" x2="853.3" y2="425.1" stroke-width="9.0" stroke-linecap="butt"/>
<circle cx="853.30" cy="425.10" r="4.50" fill="#000" stroke="none"/>
<line x1="816.4" y1="449.8" x2="852.9" y2="424.5" stroke-width="4.8" stroke="#fff" stroke-linecap="butt"/>
<circle cx="852.90" cy="424.52" r="2.40" fill="#fff" stroke="none"/>
<path d="M937.7,428.2 Q952.7,437.7 954.9,456.0 L955.6,470.8 L970.2,487.9 L970.7,453.4 Z" fill="#fff" stroke-width="1.8" />
<line x1="957.2" y1="472.2" x2="971.8" y2="489.3" stroke-width="1.2" />
<path d="M970.0,453.2 L976.3,450.3 L979.0,484.3 Q978.2,488.2 970.9,488.5 Z" fill="#fff" stroke-width="1.9" />
<line x1="970.0" y1="453.7" x2="970.9" y2="488.2" stroke-width="2.4" />
<line x1="973.9" y1="451.3" x2="936.1" y2="425.1" stroke-width="9.0" stroke-linecap="butt"/>
<circle cx="936.10" cy="425.10" r="4.50" fill="#000" stroke="none"/>
<line x1="973.0" y1="449.8" x2="936.5" y2="424.5" stroke-width="4.8" stroke="#fff" stroke-linecap="butt"/>
<circle cx="936.50" cy="424.52" r="2.40" fill="#fff" stroke="none"/>
<ellipse cx="1124.8" cy="470.8" rx="91.3" ry="64.8" fill="#fff" stroke-width="2.0" />
<ellipse cx="1124.8" cy="470.8" rx="89.3" ry="63.0" fill="none" stroke-width="1.1" />
<ellipse cx="1124.8" cy="465.6" rx="76.0" ry="52.0" fill="none" stroke-width="3.6" />
<ellipse cx="1124.8" cy="465.6" rx="72.2" ry="49.0" fill="none" stroke-width="1.3" />
<polygon points="1055.5,395.0 1052.1,426.3 1057.2,426.8 1067.8,431.3 1073.8,414.8 1079.8,410.8" fill="#fff" stroke-width="1.9" />
<line x1="1072.5" y1="415.3" x2="1074.8" y2="432.3" stroke-width="6.5" stroke-linecap="round"/>
<line x1="1073.3" y1="416.3" x2="1075.6" y2="431.3" stroke-width="0.8" stroke="#888" stroke-linecap="round"/>
<line x1="1057.6" y1="391.4" x2="1097.0" y2="421.0" stroke-width="9.0" stroke-linecap="butt"/>
<circle cx="1097.00" cy="421.00" r="4.50" fill="#000" stroke="none"/>
<line x1="1059.3" y1="391.8" x2="1097.4" y2="420.4" stroke-width="4.8" stroke="#fff" stroke-linecap="butt"/>
<circle cx="1097.42" cy="420.44" r="2.40" fill="#fff" stroke="none"/>
<polygon points="1194.1,395.0 1197.5,426.3 1192.4,426.8 1181.8,431.3 1175.8,414.8 1169.8,410.8" fill="#fff" stroke-width="1.9" />
<line x1="1177.1" y1="415.3" x2="1174.8" y2="432.3" stroke-width="6.5" stroke-linecap="round"/>
<line x1="1176.3" y1="416.3" x2="1174.0" y2="431.3" stroke-width="0.8" stroke="#888" stroke-linecap="round"/>
<line x1="1192.0" y1="391.4" x2="1152.6" y2="421.0" stroke-width="9.0" stroke-linecap="butt"/>
<circle cx="1152.60" cy="421.00" r="4.50" fill="#000" stroke="none"/>
<line x1="1190.3" y1="391.8" x2="1152.2" y2="420.4" stroke-width="4.8" stroke="#fff" stroke-linecap="butt"/>
<circle cx="1152.18" cy="420.44" r="2.40" fill="#fff" stroke="none"/>
<ellipse cx="1124.8" cy="465.4" rx="58.4" ry="41.0" fill="#fff" stroke-width="1.6" />
<path d="M1160.25,469.31 L1159.73,470.69 L1159.04,472.04 L1158.18,473.37 L1157.16,474.66 L1155.98,475.90 L1154.65,477.10 L1153.17,478.24 L1151.55,479.32 L1149.81,480.33 L1147.94,481.27 L1145.96,482.14 L1143.88,482.93 L1141.70,483.64 L1139.44,484.25 L1137.11,484.78 L1134.72,485.22 L1132.28,485.56 L1129.81,485.80 L1127.31,485.95 L1124.80,486.00 L1122.29,485.95 L1119.79,485.80 L1117.32,485.56 L1114.88,485.22 L1112.49,484.78 L1110.16,484.25 L1107.90,483.64 L1105.72,482.93 L1103.64,482.14 L1101.66,481.27 L1099.79,480.33 L1098.05,479.32 L1096.43,478.24 L1094.95,477.10 L1093.62,475.90 L1092.44,474.66 L1091.42,473.37 L1090.56,472.04 L1089.87,470.69 L1089.35,469.31" fill="none" stroke-width="1.5" />
<ellipse cx="1124.8" cy="450.3" rx="39.5" ry="25.0" fill="#fff" stroke-width="3.0" />
<ellipse cx="1124.8" cy="447.0" rx="40.0" ry="25.3" fill="#fff" stroke-width="1.7" />
<ellipse cx="1124.8" cy="447.0" rx="38.6" ry="24.1" fill="none" stroke-width="0.9" />
<ellipse cx="1125.2" cy="448.1" rx="22.3" ry="15.5" fill="none" stroke-width="1.7" />
<ellipse cx="1078.3" cy="499.3" rx="1.8" ry="2.6" fill="#000" stroke="none"/>
<ellipse cx="1171.3" cy="499.3" rx="1.8" ry="2.6" fill="#000" stroke="none"/>
<path d="M1093.8,465.8 Q1078.8,471.8 1076.6,490.1 L1075.9,504.9 L1061.3,522.0 L1060.8,487.5 Z" fill="#fff" stroke-width="1.8" />
<line x1="1074.3" y1="506.3" x2="1059.7" y2="523.4" stroke-width="1.2" />
<path d="M1061.5,487.3 L1055.2,484.4 L1052.5,518.4 Q1053.3,522.3 1060.6,522.6 Z" fill="#fff" stroke-width="1.9" />
<line x1="1061.5" y1="487.8" x2="1060.6" y2="522.3" stroke-width="2.4" />
<line x1="1057.6" y1="485.4" x2="1099.3" y2="459.6" stroke-width="9.0" stroke-linecap="butt"/>
<circle cx="1099.30" cy="459.60" r="4.50" fill="#000" stroke="none"/>
<line x1="1058.6" y1="484.0" x2="1098.9" y2="459.0" stroke-width="4.8" stroke="#fff" stroke-linecap="butt"/>
<circle cx="1098.93" cy="459.00" r="2.40" fill="#fff" stroke="none"/>
<path d="M1155.8,465.8 Q1170.8,471.8 1173.0,490.1 L1173.7,504.9 L1188.3,522.0 L1188.8,487.5 Z" fill="#fff" stroke-width="1.8" />
<line x1="1175.3" y1="506.3" x2="1189.9" y2="523.4" stroke-width="1.2" />
<path d="M1188.1,487.3 L1194.4,484.4 L1197.1,518.4 Q1196.3,522.3 1189.0,522.6 Z" fill="#fff" stroke-width="1.9" />
<line x1="1188.1" y1="487.8" x2="1189.0" y2="522.3" stroke-width="2.4" />
<line x1="1192.0" y1="485.4" x2="1150.3" y2="459.6" stroke-width="9.0" stroke-linecap="butt"/>
<circle cx="1150.30" cy="459.60" r="4.50" fill="#000" stroke="none"/>
<line x1="1191.0" y1="484.0" x2="1150.7" y2="459.0" stroke-width="4.8" stroke="#fff" stroke-linecap="butt"/>
<circle cx="1150.67" cy="459.00" r="2.40" fill="#fff" stroke="none"/>
<ellipse cx="947.8" cy="579.5" rx="91.3" ry="64.8" fill="#fff" stroke-width="2.0" />
<ellipse cx="947.8" cy="579.5" rx="89.3" ry="63.0" fill="none" stroke-width="1.1" />
<ellipse cx="947.8" cy="574.3" rx="76.0" ry="52.0" fill="none" stroke-width="3.6" />
<ellipse cx="947.8" cy="574.3" rx="72.2" ry="49.0" fill="none" stroke-width="1.3" />
<polygon points="878.5,503.7 875.1,535.0 880.2,535.5 890.8,540.0 896.8,523.5 902.8,519.5" fill="#fff" stroke-width="1.9" />
<line x1="895.5" y1="524.0" x2="897.8" y2="541.0" stroke-width="6.5" stroke-linecap="round"/>
<line x1="896.3" y1="525.0" x2="898.6" y2="540.0" stroke-width="0.8" stroke="#888" stroke-linecap="round"/>
<line x1="880.6" y1="500.1" x2="920.0" y2="529.7" stroke-width="9.0" stroke-linecap="butt"/>
<circle cx="920.00" cy="529.70" r="4.50" fill="#000" stroke="none"/>
<line x1="882.3" y1="500.5" x2="920.4" y2="529.1" stroke-width="4.8" stroke="#fff" stroke-linecap="butt"/>
<circle cx="920.42" cy="529.14" r="2.40" fill="#fff" stroke="none"/>
<polygon points="1017.1,503.7 1020.5,535.0 1015.4,535.5 1004.8,540.0 998.8,523.5 992.8,519.5" fill="#fff" stroke-width="1.9" />
<line x1="1000.1" y1="524.0" x2="997.8" y2="541.0" stroke-width="6.5" stroke-linecap="round"/>
<line x1="999.3" y1="525.0" x2="997.0" y2="540.0" stroke-width="0.8" stroke="#888" stroke-linecap="round"/>
<line x1="1015.0" y1="500.1" x2="975.6" y2="529.7" stroke-width="9.0" stroke-linecap="butt"/>
<circle cx="975.60" cy="529.70" r="4.50" fill="#000" stroke="none"/>
<line x1="1013.3" y1="500.5" x2="975.2" y2="529.1" stroke-width="4.8" stroke="#fff" stroke-linecap="butt"/>
<circle cx="975.18" cy="529.14" r="2.40" fill="#fff" stroke="none"/>
<ellipse cx="947.8" cy="574.1" rx="58.4" ry="41.0" fill="#fff" stroke-width="1.6" />
<path d="M983.25,578.01 L982.73,579.39 L982.04,580.74 L981.18,582.07 L980.16,583.36 L978.98,584.60 L977.65,585.80 L976.17,586.94 L974.55,588.02 L972.81,589.03 L970.94,589.97 L968.96,590.84 L966.88,591.63 L964.70,592.34 L962.44,592.95 L960.11,593.48 L957.72,593.92 L955.28,594.26 L952.81,594.50 L950.31,594.65 L947.80,594.70 L945.29,594.65 L942.79,594.50 L940.32,594.26 L937.88,593.92 L935.49,593.48 L933.16,592.95 L930.90,592.34 L928.72,591.63 L926.64,590.84 L924.66,589.97 L922.79,589.03 L921.05,588.02 L919.43,586.94 L917.95,585.80 L916.62,584.60 L915.44,583.36 L914.42,582.07 L913.56,580.74 L912.87,579.39 L912.35,578.01" fill="none" stroke-width="1.5" />
<ellipse cx="947.8" cy="559.0" rx="39.5" ry="25.0" fill="#fff" stroke-width="3.0" />
<ellipse cx="947.8" cy="555.7" rx="40.0" ry="25.3" fill="#fff" stroke-width="1.7" />
<ellipse cx="947.8" cy="555.7" rx="38.6" ry="24.1" fill="none" stroke-width="0.9" />
<ellipse cx="948.2" cy="556.8" rx="22.3" ry="15.5" fill="none" stroke-width="1.7" />
<ellipse cx="901.3" cy="608.0" rx="1.8" ry="2.6" fill="#000" stroke="none"/>
<ellipse cx="994.3" cy="608.0" rx="1.8" ry="2.6" fill="#000" stroke="none"/>
<path d="M916.8,574.5 Q901.8,580.5 899.6,598.8 L898.9,613.6 L884.3,630.7 L883.8,596.2 Z" fill="#fff" stroke-width="1.8" />
<line x1="897.3" y1="615.0" x2="882.7" y2="632.1" stroke-width="1.2" />
<path d="M884.5,596.0 L878.2,593.1 L875.5,627.1 Q876.3,631.0 883.6,631.3 Z" fill="#fff" stroke-width="1.9" />
<line x1="884.5" y1="596.5" x2="883.6" y2="631.0" stroke-width="2.4" />
<line x1="880.6" y1="594.1" x2="922.3" y2="568.3" stroke-width="9.0" stroke-linecap="butt"/>
<circle cx="922.30" cy="568.30" r="4.50" fill="#000" stroke="none"/>
<line x1="881.6" y1="592.7" x2="921.9" y2="567.7" stroke-width="4.8" stroke="#fff" stroke-linecap="butt"/>
<circle cx="921.93" cy="567.70" r="2.40" fill="#fff" stroke="none"/>
<path d="M978.8,574.5 Q993.8,580.5 996.0,598.8 L996.7,613.6 L1011.3,630.7 L1011.8,596.2 Z" fill="#fff" stroke-width="1.8" />
<line x1="998.3" y1="615.0" x2="1012.9" y2="632.1" stroke-width="1.2" />
<path d="M1011.1,596.0 L1017.4,593.1 L1020.1,627.1 Q1019.3,631.0 1012.0,631.3 Z" fill="#fff" stroke-width="1.9" />
<line x1="1011.1" y1="596.5" x2="1012.0" y2="631.0" stroke-width="2.4" />
<line x1="1015.0" y1="594.1" x2="973.3" y2="568.3" stroke-width="9.0" stroke-linecap="butt"/>
<circle cx="973.30" cy="568.30" r="4.50" fill="#000" stroke="none"/>
<line x1="1014.0" y1="592.7" x2="973.7" y2="567.7" stroke-width="4.8" stroke="#fff" stroke-linecap="butt"/>
<circle cx="973.67" cy="567.70" r="2.40" fill="#fff" stroke="none"/>
<polyline points="387.8,611.2 315.3,611.2 315.3,568.8" fill="none" stroke-width="1.45" />
<path d="M298.8,581.0 L315.3,536.0 L331.8,581.0 Q315.3,570.0 298.8,581.0 Z" fill="none" stroke-width="1.45" stroke-linejoin="miter"/>
<polyline points="919.4,903.3 964.3,903.3 964.3,962.4" fill="none" stroke-width="1.45" />
<path d="M948.0,950.5 L964.3,994.7 L980.6,950.5 Q964.3,961.5 948.0,950.5 Z" fill="none" stroke-width="1.45" stroke-linejoin="miter"/>
<polyline points="1367.6,643.2 1448.8,643.2 1448.8,686.4" fill="none" stroke-width="1.45" />
<path d="M1432.2,673.7 L1448.8,719.0 L1465.4,673.7 Q1448.8,684.1 1432.2,673.7 Z" fill="none" stroke-width="1.45" stroke-linejoin="miter"/>
<text x="236.3" y="528.3" style="font-family:&quot;Liberation Sans&quot;,sans-serif;font-size:37.7px;fill:#000;stroke:none">min. 90 mm</text>
<text x="1356.5" y="752.9" style="font-family:&quot;Liberation Sans&quot;,sans-serif;font-size:37.7px;fill:#000;stroke:none">min. 90 mm</text>
<text x="867.3" y="1027.4" style="font-family:&quot;Liberation Sans&quot;,sans-serif;font-size:37.7px;fill:#000;stroke:none">min. 60 mm</text>
<text transform="translate(545.5,287.6) rotate(-30)" style="font-family:&quot;Liberation Sans&quot;,sans-serif;font-size:37.7px;fill:#000;stroke:none">520 mm</text>
<text transform="translate(1075.8,239.9) rotate(30)" style="font-family:&quot;Liberation Sans&quot;,sans-serif;font-size:37.7px;fill:#000;stroke:none">690 mm</text>
<text transform="translate(612.9,732.5) rotate(30)" style="font-family:&quot;Liberation Sans&quot;,sans-serif;font-size:37.7px;fill:#000;stroke:none">560 mm</text>
<text transform="translate(1072.4,810.8) rotate(-30)" style="font-family:&quot;Liberation Sans&quot;,sans-serif;font-size:37.7px;fill:#000;stroke:none">490 mm</text>
</svg>
</body></html>
